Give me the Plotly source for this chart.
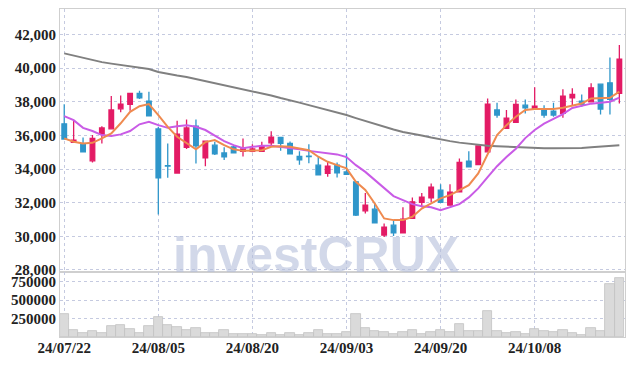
import plotly.graph_objects as go
from plotly.subplots import make_subplots

dates = ["24/07/22","24/07/23","24/07/24","24/07/25","24/07/26","24/07/29","24/07/30","24/07/31",
         "24/08/01","24/08/02","24/08/05","24/08/06","24/08/07","24/08/08","24/08/09","24/08/12",
         "24/08/13","24/08/14","24/08/16","24/08/19","24/08/20","24/08/21","24/08/22","24/08/23",
         "24/08/26","24/08/27","24/08/28","24/08/29","24/08/30","24/09/02","24/09/03","24/09/04",
         "24/09/05","24/09/06","24/09/09","24/09/10","24/09/11","24/09/12","24/09/13","24/09/19",
         "24/09/20","24/09/23","24/09/24","24/09/25","24/09/26","24/09/27","24/09/30","24/10/02",
         "24/10/04","24/10/07","24/10/08","24/10/10","24/10/11","24/10/14","24/10/15","24/10/16",
         "24/10/17","24/10/18","24/10/21","24/10/22"]

open_ = [36690,35580,35480,34490,36080,36390,37580,37850,38500,38040,
         36380,34200,33760,35290,36550,34670,35420,34960,35320,35050,
         35050,35050,35560,35880,35520,34750,34760,34230,33740,34230,
         33830,33240,31510,31610,30070,30660,30200,31060,32010,32290,
         32740,31850,32640,34470,34270,35020,37510,36420,36770,37800,
         37580,37580,37450,37310,38240,38040,38000,39050,39130,38500]
high = [37860,36870,35880,36020,36540,38340,38380,38520,38660,38600,
        36510,35520,36870,36950,36950,35700,35620,35290,35380,35820,
        35470,35620,36240,35900,35640,35050,35480,34730,34430,34390,
        34930,33260,32580,32010,30760,30920,31720,32310,32580,33140,
        33100,33100,34630,35050,35400,38200,37940,37510,38140,38140,
        38860,37800,37940,38740,38800,38440,39100,39060,40640,41380]
low = [35750,35560,34990,34390,35520,36350,37370,37460,38160,37150,
       31300,33480,33720,35190,34330,34170,34830,34530,34950,34750,
       35000,35030,35320,35080,34880,34250,34350,33640,33540,33500,
       33670,31200,31360,30780,29960,30010,30180,31040,31720,32030,
       31990,31830,32620,34110,34250,35000,37050,36400,36750,37310,
       37560,37050,37110,37050,37800,37700,37980,37250,37250,37900]
close = [35780,35720,35020,35820,36440,37510,37860,38500,38240,37170,
         33480,34180,36080,36440,35380,35660,34900,34720,34960,35190,
         35190,35360,35900,35520,34900,34550,34740,33660,34170,33770,
         33680,31260,31850,30800,30540,30200,31020,32050,32330,32920,
         32010,32630,34390,34130,35380,37860,37210,37030,37850,37640,
         37740,37210,37210,38340,38440,37850,38830,37570,38140,40540]

ma_short = [35820,35620,35520,35560,35820,36120,36720,37400,37740,37860,
            37210,36510,35920,35520,35170,35600,35720,35420,35170,35080,
            35080,35120,35320,35360,35320,35230,35120,34730,34430,34230,
            34040,33240,32750,31950,31060,30960,30960,31160,31650,31950,
            32250,32450,32750,33040,33740,34880,36020,36610,37110,37510,
            37570,37570,37570,37640,37760,37900,38200,38240,38240,38600]
ma_mid = [37150,36910,36450,36260,36020,35960,36060,36260,36660,36810,
          36610,36450,36550,36610,36510,36320,35990,35660,35420,35240,
          35320,35380,35380,35320,35260,35170,35080,35020,34930,34870,
          34710,34230,33830,33340,32850,32390,32150,31910,31790,31720,
          31550,31720,31910,32310,32850,33520,34170,34710,35210,35840,
          36320,36700,36970,37270,37630,37770,37890,37940,38000,38250]
ma_long = [40880,40750,40630,40480,40360,40270,40190,40120,40050,39950,
           39770,39650,39560,39470,39350,39230,39110,38960,38850,38730,
           38610,38490,38370,38220,38100,37950,37800,37660,37510,37360,
           37210,37030,36850,36670,36490,36350,36200,36110,35990,35870,
           35750,35660,35570,35500,35440,35390,35360,35330,35300,35290,
           35260,35240,35240,35240,35240,35250,35290,35320,35360,35420]

volume = [314000,90000,55000,82000,55000,145000,164000,109000,55000,145000,
          273000,164000,137000,96000,123000,59000,59000,96000,36000,36000,
          41000,22000,55000,27000,55000,27000,59000,96000,41000,41000,
          63000,318000,123000,86000,68000,41000,68000,96000,41000,72000,
          96000,63000,178000,86000,86000,350000,86000,59000,72000,41000,
          109000,86000,72000,96000,59000,22000,123000,86000,724000,806000]

price_ticks = [28000,30000,32000,34000,36000,38000,40000,42000]
vol_ticks = [250000,500000,750000]
date_ticks = [dates[i] for i in range(0, 60, 10)]

UP = "#E31B65"
DOWN = "#2F96CA"
GRID = "#C5CAE0"
FONT = "Liberation Sans Narrow"

fig = make_subplots(rows=2, cols=1, shared_xaxes=True, vertical_spacing=0,
                    row_heights=[0.802, 0.198])

fig.add_trace(go.Candlestick(
    x=dates, open=open_, high=high, low=low, close=close,
    increasing=dict(line=dict(color=UP, width=1.3), fillcolor=UP),
    decreasing=dict(line=dict(color=DOWN, width=1.3), fillcolor=DOWN),
    showlegend=False, hoverinfo="skip"), row=1, col=1)

fig.add_trace(go.Scatter(x=dates, y=ma_long, mode="lines",
                         line=dict(color="#808080", width=2), showlegend=False), row=1, col=1)
fig.add_trace(go.Scatter(x=dates, y=ma_mid, mode="lines",
                         line=dict(color="#C95BE6", width=2), showlegend=False), row=1, col=1)
fig.add_trace(go.Scatter(x=dates, y=ma_short, mode="lines",
                         line=dict(color="#EF8A4F", width=2), showlegend=False), row=1, col=1)

fig.add_trace(go.Bar(x=dates, y=volume, marker=dict(color="#DADADA",
                     line=dict(color="#C2C2C2", width=0.8)), showlegend=False), row=2, col=1)

fig.add_annotation(text="<b>investCRUX</b>", xref="paper", yref="paper",
                   x=0.453, y=0.16, xanchor="center", yanchor="bottom",
                   showarrow=False,
                   font=dict(family="Liberation Sans", size=50, color="rgba(180,190,218,0.6)"))

axis_font = dict(family=FONT, size=15, color="#222222")
fig.update_layout(
    width=626, height=350,
    margin=dict(l=52, r=9, t=1, b=21, autoexpand=False),
    paper_bgcolor="white", plot_bgcolor="white",
    bargap=0, showlegend=False,
    font=dict(family=FONT, color="#222222"),
)
fig.update_xaxes(type="category", tickmode="array", tickvals=date_ticks,
                 ticktext=["<b>%s</b>" % d for d in date_ticks],
                 showgrid=True, gridcolor=GRID, griddash="dot", gridwidth=1,
                 showline=True, linecolor="#CFCFCF", mirror=True,
                 ticks="", tickfont=axis_font, rangeslider_visible=False,
                 range=[-0.45, 59.6], automargin=False)
fig.update_xaxes(showticklabels=False, row=1, col=1)
fig.update_xaxes(showticklabels=True, ticklabelstandoff=-3, row=2, col=1)
fig.update_yaxes(range=[27870, 43520], tickvals=price_ticks,
                 ticktext=["<b>{:,}</b>".format(v) for v in price_ticks],
                 showgrid=True, gridcolor=GRID, griddash="dot", gridwidth=1,
                 showline=True, linecolor="#CFCFCF", mirror=True, automargin=False,
                 ticks="", tickfont=axis_font, zeroline=False, row=1, col=1)
fig.update_yaxes(range=[0, 882000], tickvals=vol_ticks,
                 ticktext=["<b>%d</b>" % v for v in vol_ticks],
                 showgrid=True, gridcolor=GRID, griddash="dot", gridwidth=1,
                 showline=True, linecolor="#CFCFCF", mirror=True, automargin=False,
                 ticks="", tickfont=axis_font, zeroline=False, row=2, col=1)

fig.write_html("out.html")
